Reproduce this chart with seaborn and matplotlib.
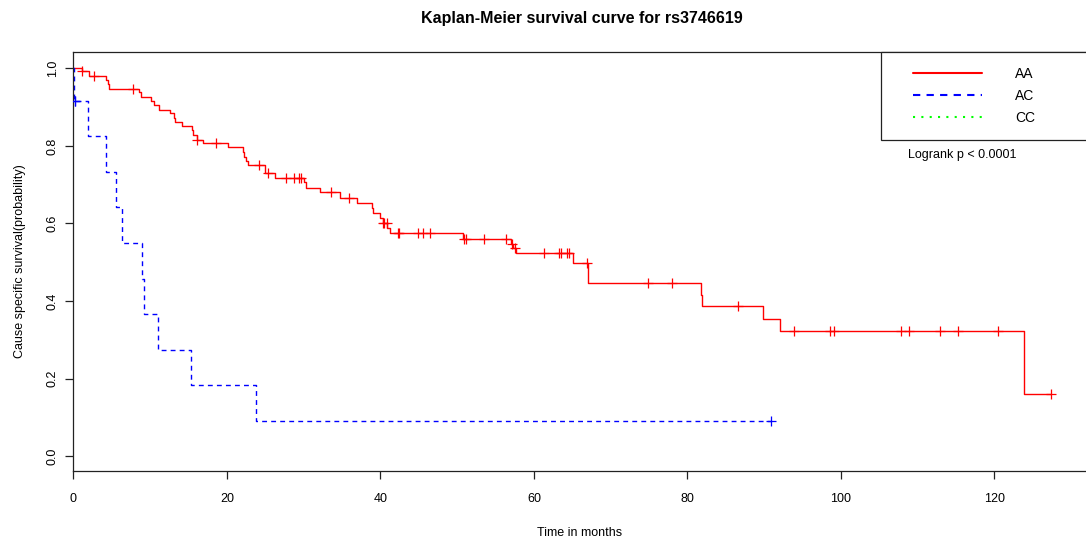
import numpy as np
import pandas as pd
import matplotlib
matplotlib.use("Agg")
import matplotlib.pyplot as plt
from matplotlib.lines import Line2D
from matplotlib.legend_handler import HandlerLine2D
import seaborn as sns

# step points of the Kaplan-Meier curves (time in months, survival after the step)
aa_time = [0, 1.1, 2.0, 4.2, 4.5, 4.6, 8.5, 8.8, 10.1, 10.5, 11.2, 12.6, 13.1, 13.3,
           14.2, 15.4, 15.6, 16.1, 16.9, 20.2, 22.05, 22.2, 22.5, 22.7, 24.9, 25.0,
           26.2, 30.1, 30.3, 32.1, 34.7, 37.0, 38.9, 39.0, 39.9, 40.3, 40.9, 41.3,
           50.8, 57.0, 57.3, 57.6, 65.1, 67.0, 81.8, 81.95, 89.9, 92.0, 123.9]
aa_surv = [1.0, 0.993, 0.981, 0.970, 0.960, 0.948, 0.938, 0.926, 0.915, 0.905, 0.893,
           0.884, 0.873, 0.862, 0.851, 0.840, 0.828, 0.815, 0.807, 0.796, 0.784, 0.772,
           0.761, 0.751, 0.740, 0.729, 0.716, 0.706, 0.691, 0.680, 0.667, 0.654, 0.641,
           0.628, 0.615, 0.602, 0.589, 0.576, 0.559, 0.548, 0.536, 0.523, 0.497, 0.446,
           0.416, 0.387, 0.355, 0.322, 0.161]
aa_censor = [1.1, 2.7, 7.7, 16.1, 18.6, 24.2, 25.4, 27.7, 28.7, 29.4, 29.6, 33.5, 35.9,
             40.3, 40.5, 40.8, 42.3, 42.4, 44.9, 45.5, 46.5, 50.9, 51.2, 53.5, 56.3,
             57.2, 57.5, 61.3, 63.2, 63.5, 64.3, 64.6, 66.9, 74.8, 78.0, 86.6, 93.9,
             98.6, 99.1, 107.8, 108.8, 112.9, 115.3, 120.5, 127.4]
aa_end = 127.4

ac_time = [0, 0.1, 1.95, 4.3, 5.55, 6.33, 8.9, 9.16, 11.07, 15.3, 23.8]
ac_surv = [1.0, 0.917, 0.825, 0.733, 0.642, 0.550, 0.458, 0.367, 0.275, 0.183, 0.092]
ac_censor = [0.25, 0.25, 90.9]
ac_end = 90.9

groups = ["AA", "AC", "CC"]
colors = {"AA": "#FF0000", "AC": "#0000FF", "CC": "#00FF00"}
dashes = {"AA": "-", "AC": (0, (3.5, 3)), "CC": (0, (1, 3))}

sns.set_style("ticks")
plt.rcParams["font.family"] = ["Liberation Sans", "DejaVu Sans"]
plt.rcParams["text.color"] = "black"
plt.rcParams["axes.labelcolor"] = "black"


def curve_frame(times, surv, end):
    return pd.DataFrame({"time": list(times) + [end], "surv": list(surv) + [surv[-1]]})


def censor_frame(times, surv, cens):
    idx = np.searchsorted(times, cens, side="right") - 1
    return pd.DataFrame({"time": cens, "surv": np.asarray(surv)[idx]})


fig = plt.figure(figsize=(10.86, 5.46), dpi=100)
ax = fig.add_axes([0.0676, 0.1374, 0.94, 0.768])

curves = {"AA": (aa_time, aa_surv, aa_censor, aa_end),
          "AC": (ac_time, ac_surv, ac_censor, ac_end)}
for g, (t, s, c, e) in curves.items():
    sns.lineplot(data=curve_frame(t, s, e), x="time", y="surv", ax=ax,
                 drawstyle="steps-post", color=colors[g], linestyle=dashes[g],
                 linewidth=1.0, estimator=None, sort=False)
    sns.scatterplot(data=censor_frame(t, s, c), x="time", y="surv", ax=ax,
                    marker="+", s=60, color=colors[g], linewidth=0.9, zorder=3)

ax.set_xlim(0, 133)
ax.set_ylim(-0.038, 1.043)
ax.set_xticks([0, 20, 40, 60, 80, 100, 120])
ax.set_yticks([0.0, 0.2, 0.4, 0.6, 0.8, 1.0])
ax.set_yticklabels(["0.0", "0.2", "0.4", "0.6", "0.8", "1.0"])
ax.tick_params(axis="both", labelsize=9, length=5.5, width=0.9, colors="#222222",
               labelcolor="black")
ax.tick_params(axis="x", pad=10)
ax.tick_params(axis="y", labelrotation=90, pad=5)
for lab in ax.get_yticklabels():
    lab.set_va("center")
for sp in ax.spines.values():
    sp.set_visible(True)
    sp.set_linewidth(0.9)
    sp.set_color("#222222")

ax.set_xlabel("Time in months", fontsize=9)
ax.set_ylabel("Cause specific survival(probability)", fontsize=9)
ax.xaxis.set_label_coords(0.4963, -0.133)
ax.yaxis.set_label_coords(-0.0464, 0.5)

fig.text(582 / 1086, 1 - 18 / 546, "Kaplan-Meier survival curve for rs3746619",
         ha="center", va="center", fontsize=11.5, fontweight="bold")

handles = [Line2D([], [], color=colors[g], linestyle=dashes[g], linewidth=1.5)
           for g in groups]
leg = ax.legend(handles, groups, loc="upper left", bbox_to_anchor=(0.791, 0.0, 0.209, 1.0),
                mode="expand", borderaxespad=0, borderpad=1.1, handlelength=6.2,
                handletextpad=2.37, labelspacing=0.58, fontsize=10, frameon=True,
                fancybox=False, framealpha=1, edgecolor="#222222",
                handler_map={Line2D: HandlerLine2D(xpad=1.22)})
leg.get_frame().set_linewidth(0.9)

ax.text(0.8705, 0.7536, "Logrank p < 0.0001", transform=ax.transAxes,
        ha="center", va="center", fontsize=9)

fig.savefig("out.png", dpi=100)
